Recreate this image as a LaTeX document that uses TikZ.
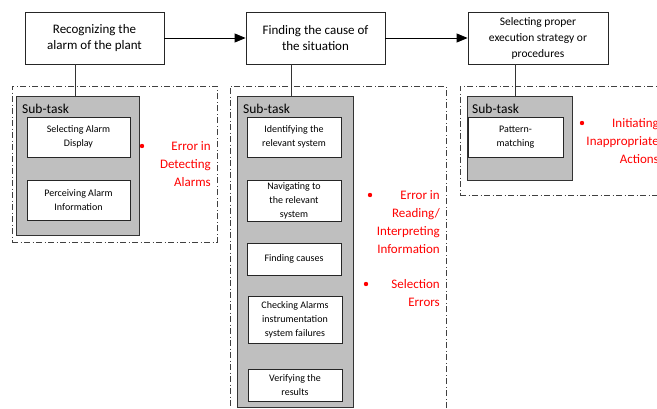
\documentclass[tikz,border=0pt]{standalone}
\usepackage{fontspec}
\setmainfont{Carlito}
\usetikzlibrary{arrows.meta}

\tikzset{
  taskbox/.style={draw=black!85, line width=0.8pt, fill=white, align=center, inner sep=1pt, font=\fontsize{13}{16}\selectfont},
  frame/.style={draw=black!75, line width=0.8pt, dash pattern=on 6pt off 2.5pt on 1pt off 2.5pt, inner sep=0pt},
  subback/.style={draw=black!80, line width=0.8pt, fill=black!25, inner sep=0pt},
  stepbox/.style={draw=black!85, line width=0.8pt, fill=white, align=center, inner sep=1pt, font=\fontsize{10}{14}\selectfont},
  sublabel/.style={anchor=north west, inner sep=0pt, font=\fontsize{13.5}{16}\selectfont},
  errtext/.style={anchor=east, align=right, text=red, inner sep=0pt, font=\fontsize{13}{18}\selectfont},
  flow/.style={-{Triangle[length=11pt,width=9pt]}, line width=0.9pt, black}
}

\begin{document}
\begin{tikzpicture}[x=1pt,y=-1pt]
\clip (0,0) rectangle (657,408);

\node[taskbox, minimum width=139pt, minimum height=52pt] (rec) at (94.5,38) {Recognizing the\\alarm of the plant};
\node[taskbox, minimum width=139pt, minimum height=52pt] (find) at (315.5,38) {Finding the cause of\\the situation};
\node[taskbox, minimum width=140pt, minimum height=52pt, font=\fontsize{11.5}{16}\selectfont] (sel) at (538,38) {Selecting proper\\execution strategy or\\procedures};
\draw[flow] (rec) -- (find);
\draw[flow] (find) -- (sel);

\node[frame, minimum width=205pt, minimum height=156pt] (frame1) at (114.5,164) {};
\node[frame, minimum width=216pt, minimum height=334pt] (frame2) at (338,253) {};
\node[frame, minimum width=240pt, minimum height=109pt] (frame3) at (580,140.5) {};

\node[subback, minimum width=123pt, minimum height=139pt] (sub1) at (77.5,165.5) {};
\node[subback, minimum width=116pt, minimum height=311pt] (sub2) at (295,251.5) {};
\node[subback, minimum width=105pt, minimum height=84pt] (sub3) at (519.5,138) {};
\draw[line width=0.8pt, black!80] ([xshift=-2.5pt]sub1.north) -- ([xshift=-2.5pt]sub1.north |- rec.south);
\draw[line width=0.8pt, black!80] ([xshift=-4pt]sub2.north) -- ([xshift=-4pt]sub2.north |- find.south);
\draw[line width=0.8pt, black!80] ([xshift=-4.5pt]sub3.north) -- ([xshift=-4.5pt]sub3.north |- sel.south);

\node[sublabel] (lab1) at (22,104) {Sub-task};
\node[sublabel] (lab2) at (243,104) {Sub-task};
\node[sublabel] (lab3) at (472,104) {Sub-task};

\node[stepbox, minimum width=103pt, minimum height=40pt] (s11) at (78.5,137) {Selecting Alarm\\Display};
\node[stepbox, minimum width=103pt, minimum height=40pt] (s12) at (78.5,200) {Perceiving Alarm\\Information};

\node[stepbox, minimum width=94pt, minimum height=40pt] (s21) at (294,137) {Identifying the\\relevant system};
\node[stepbox, minimum width=94pt, minimum height=41pt] (s22) at (294,200.5) {Navigating to\\the relevant\\system};
\node[stepbox, minimum width=94pt, minimum height=32pt] (s23) at (294,259) {Finding causes};
\node[stepbox, minimum width=94pt, minimum height=47pt] (s24) at (295,319.5) {Checking Alarms\\instrumentation\\system failures};
\node[stepbox, minimum width=94pt, minimum height=32pt] (s25) at (295,385) {Verifying the\\results};

\node[stepbox, minimum width=95pt, minimum height=40pt] (s31) at (515.5,137) {Pattern-\\matching};

\fill[red] (142,146) circle (2.2pt);
\node[errtext] (err1) at (211,164) {Error in\\Detecting\\Alarms};
\fill[red] (370,195) circle (2.2pt);
\node[errtext] (err2) at (440,222) {Error in\\Reading/\\Interpreting\\Information};
\fill[red] (366,284) circle (2.2pt);
\node[errtext] (err3) at (440,293) {Selection\\Errors};
\fill[red] (582,123) circle (2.2pt);
\node[errtext] (err4) at (659,141) {Initiating\\Inappropriate\\Actions};
\end{tikzpicture}
\end{document}
